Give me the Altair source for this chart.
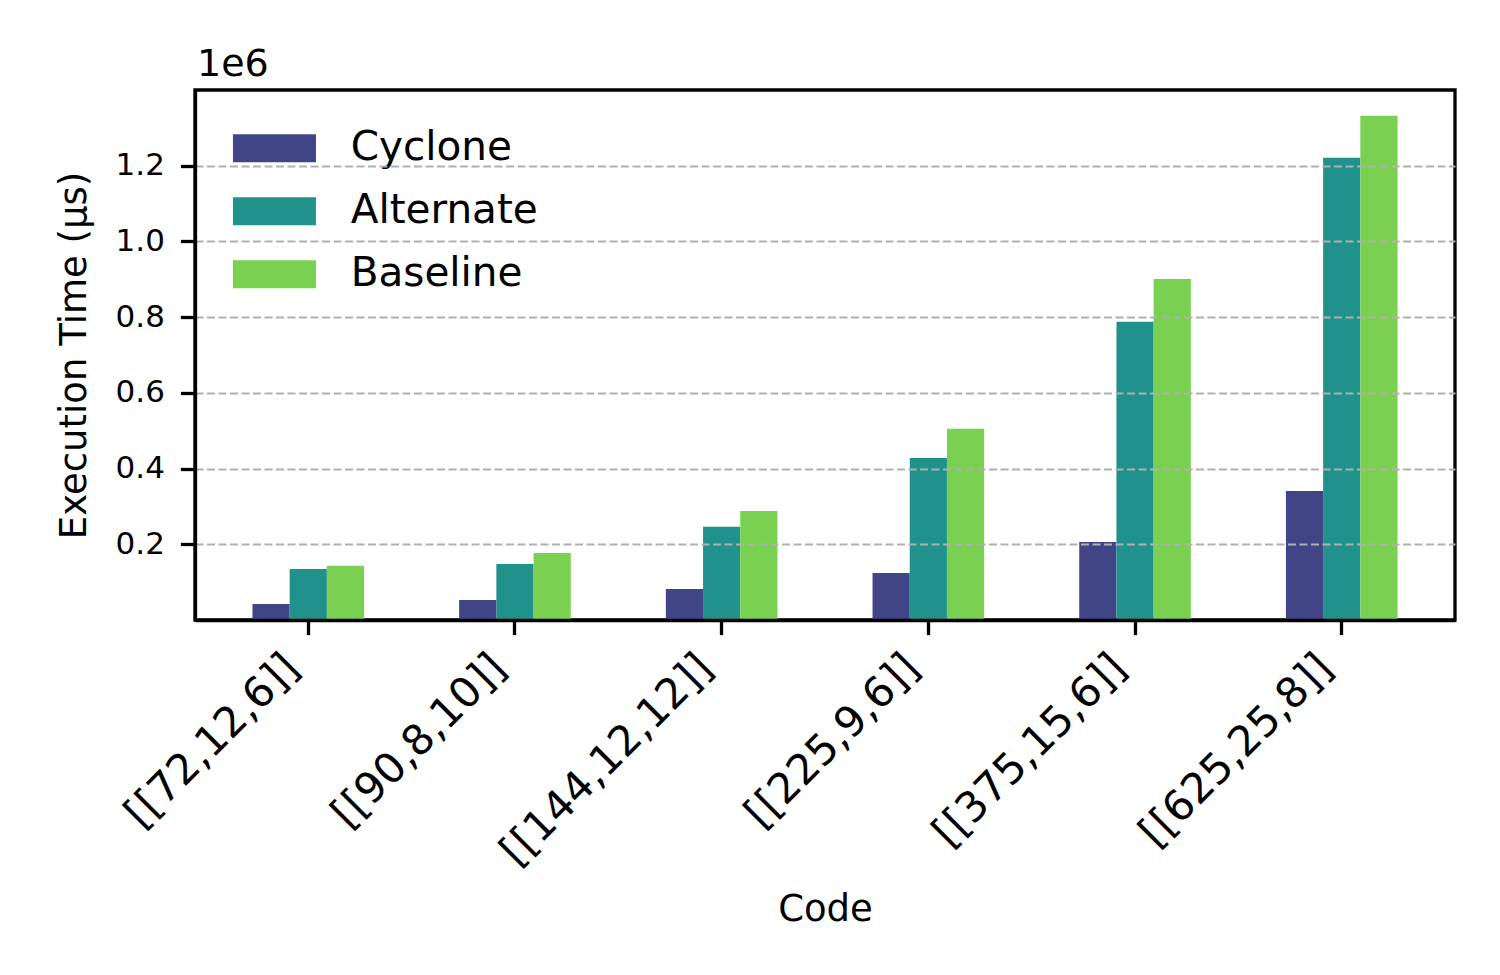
import altair as alt
import pandas as pd

codes = ["[[72,12,6]]", "[[90,8,10]]", "[[144,12,12]]", "[[225,9,6]]", "[[375,15,6]]", "[[625,25,8]]"]
methods = ["Cyclone", "Alternate", "Baseline"]
cyclone = [42000, 53000, 82000, 124000, 206000, 341000]
alternate = [135000, 148000, 246000, 428000, 788000, 1221000]
baseline = [143000, 177000, 288000, 505000, 901000, 1332000]
colors = ["#414487", "#21918c", "#7ad151"]
y_ticks = [200000, 400000, 600000, 800000, 1000000, 1200000]

rows = []
for series_name, series in zip(methods, [cyclone, alternate, baseline]):
    for c, v in zip(codes, series):
        rows.append({"Code": c, "Method": series_name, "Time": v})
df = pd.DataFrame(rows)

FONT = "DejaVu Sans"

chart = (
    alt.Chart(df)
    .mark_bar(strokeWidth=0)
    .encode(
        x=alt.X(
            "Code:N",
            sort=codes,
            scale=alt.Scale(paddingInner=0.46, paddingOuter=0.278),
            axis=alt.Axis(
                title="Code",
                labelAngle=-45,
                labelAlign="right",
                labelBaseline="middle",
                labelFontSize=42,
                labelLimit=0,
                labelOffset=-16,
                labelPadding=26,
                tickSize=14.6,
                tickWidth=3.3,
                tickColor="black",
                domainColor="black",
                domainWidth=3.3,
                labelColor="black",
                titleFontSize=37,
                titleFontWeight="normal",
                titleColor="black",
                titleY=300,
                titleBaseline="alphabetic",
                grid=False,
                zindex=1,
            ),
        ),
        xOffset=alt.XOffset("Method:N", sort=methods, scale=alt.Scale(paddingInner=0, paddingOuter=0)),
        y=alt.Y(
            "Time:Q",
            scale=alt.Scale(domain=[0, 1400000], nice=False, zero=True),
            axis=alt.Axis(
                title="Execution Time (μs)",
                values=y_ticks,
                labelExpr="format(datum.value / 1000000, '.1f')",
                labelFontSize=31,
                labelPadding=16,
                labelColor="black",
                tickSize=14.6,
                tickWidth=3.3,
                tickColor="black",
                domainColor="black",
                domainWidth=3.3,
                grid=True,
                gridColor="#b0b0b0",
                gridDash=[8, 3.5],
                gridWidth=2,
                titleFontSize=37,
                titleFontWeight="normal",
                titleColor="black",
                titleX=-110,
                titleY=265,
                titleBaseline="alphabetic",
                zindex=1,
            ),
        ),
        color=alt.Color(
            "Method:N",
            sort=methods,
            scale=alt.Scale(domain=methods, range=colors),
            legend=alt.Legend(
                title=None,
                orient="none",
                legendX=59.2,
                legendY=38,
                symbolType="M-2.075,-0.7H2.075V0.7H-2.075Z",
                symbolSize=1600,
                symbolStrokeWidth=0,
                symbolOpacity=1,
                labelFontSize=40.5,
                labelLimit=0,
                labelOffset=56,
                labelColor="black",
                rowPadding=22,
                padding=0,
            ),
        ),
    )
    .properties(
        width=1260,
        height=530,
        title=alt.TitleParams(
            text="1e6",
            anchor="start",
            frame="group",
            fontSize=38,
            fontWeight="normal",
            color="black",
            baseline="alphabetic",
            offset=13,
            dx=2,
            dy=37,
        ),
        autosize=alt.AutoSizeParams(type="none"),
        padding={"left": 187, "top": 82, "right": 37, "bottom": 347},
    )
    .configure(font=FONT)
    .configure_view(stroke="black", strokeWidth=3.3)
)

chart.save("out.html", embed_options={"renderer": "svg", "actions": False})
